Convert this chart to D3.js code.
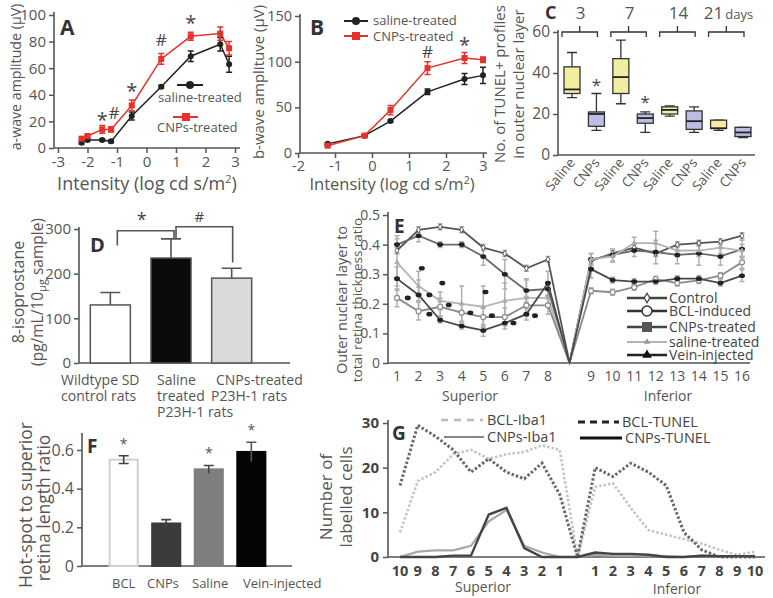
<!DOCTYPE html>
<html><head><meta charset="utf-8">
<script src="https://cdn.jsdelivr.net/npm/d3@7"></script>
<style>body{margin:0;background:#fff;}</style></head>
<body><svg id="fig" width="773" height="598"></svg>
<script>
// ===== DATA =====
// Panel A
const aIntensity = [-2.2,-2,-1.5,-1.2,-0.5,0.5,1.5,2.5,2.8];
const aSaline    = [4,6,6,5,24,46,69,78,63];
const aSalineErr = [1,1,1,1,3,1,4,5,6];
const aCNPs      = [7,9,14,14,32,67,84,86,75];
const aCNPsErr   = [1,1,3,2,4,4,3,5,5];
const aSig = [{x:-1.5,v:23,s:"*"},{x:-1.1,v:26,s:"#"},{x:-0.5,v:45,s:"*"},{x:0.5,v:81,s:"#"},{x:1.5,v:96,s:"*"}];
const aTicksX = [-3,-2,-1,0,1,2,3], aTicksY = [0,20,40,60,80,100];
// Panel B
const bIntensity = [-1.2,-0.2,0.5,1.5,2.5,3.0];
const bSaline    = [10,19,35,67,81,85];
const bSalineErr = [1,1,1,3,6,9];
const bCNPs      = [8,19,47,93,104,102];
const bCNPsErr   = [1,1,5,7,6,3];
const bSig = [{x:1.5,v:111,s:"#"},{x:2.5,v:122,s:"*"}];
const bTicksX = [-2,-1,0,1,2,3], bTicksY = [0,50,100,150];
// Panel C
const cLabels = ["Saline","CNPs","Saline","CNPs","Saline","CNPs","Saline","CNPs"];
const cDays = ["3","7","14","21"];
const cMin = [28,12,25,11,19,11,12,8.5];
const cQ1  = [30,14,30,15.5,20,12.5,13,9];
const cMed = [32,20,38,18,22,16.5,13,11];
const cQ3  = [43,21,47,20,23.5,21.5,17,13.5];
const cMax = [50,30,56,21,24,23.5,17,13.5];
const cStars = [{i:1,v:35},{i:3,v:27}];
const cTicksY = [0,20,40,60];
// Panel D
const dGroups = ["Wildtype SD control rats","Saline treated P23H-1 rats","CNPs-treated P23H-1 rats"];
const dValues = [130,235,190];
const dErr    = [28,43,22];
const dTicksY = [0,100,200,300];
// Panel E (index 8 is the optic-nerve gap)
const eTickLabels = ["1","2","3","4","5","6","7","8","","9","10","11","12","13","14","15","16"];
const eControl = [0.38,0.45,0.46,0.45,0.39,0.37,0.32,0.35,0,0.345,0.37,0.39,0.37,0.40,0.405,0.41,0.43];
const eBCL     = [0.22,0.175,0.19,0.17,0.155,0.155,0.195,0.195,0,0.244,0.239,0.256,0.283,0.27,0.279,0.295,0.34];
const eCNPs    = [0.40,0.43,0.40,0.40,0.36,0.30,0.245,0.25,0,0.35,0.365,0.38,0.375,0.365,0.37,0.36,0.385];
const eSaline  = [0.34,0.26,0.21,0.20,0.19,0.21,0.22,0.22,0,0.35,0.36,0.405,0.405,0.38,0.38,0.39,0.38];
const eVein    = [0.285,0.23,0.145,0.125,0.11,0.135,0.165,0.27,0,0.317,0.28,0.275,0.275,0.285,0.285,0.27,0.295];
const eErrControl = [0.01,0.01,0.01,0.01,0.01,0.01,0.01,0.01,0,0.01,0.01,0.01,0.01,0.01,0.01,0.01,0.01];
const eErrCNPs    = [0.03,0.02,0.01,0.01,0.03,0.05,0.04,0.02,0,0.02,0.02,0.02,0.04,0.03,0.04,0.03,0.03];
const eErrSaline  = [0.08,0.05,0.03,0.06,0.07,0.06,0.06,0.03,0,0.02,0.02,0.02,0.04,0.02,0.02,0.02,0.02];
const eErrBCL     = [0.03,0.03,0.03,0.03,0.03,0.03,0.03,0.03,0,0.01,0.01,0.01,0.01,0.01,0.01,0.01,0.02];
const eErrVein    = [0.04,0.05,0.01,0.01,0.02,0.02,0.02,0.04,0,0.03,0.01,0.01,0.01,0.01,0.01,0.01,0.02];
const eExtraDots = [{i:0.5,v:0.22},{i:1.15,v:0.32},{i:1.5,v:0.23},{i:1.5,v:0.165},{i:2.1,v:0.27},{i:2.4,v:0.196},{i:3.4,v:0.17},{i:4.1,v:0.24},{i:4.4,v:0.16},{i:5.4,v:0.135},{i:6.4,v:0.16}];
const eTicksY = [0,0.1,0.2,0.3,0.4,0.5];
// Panel F
const fCats = ["BCL","CNPs","Saline","Vein-injected"];
const fValues = [0.55,0.22,0.50,0.59];
const fErr = [0.02,0.02,0.02,0.05];
const fStars = [true,false,true,true];
const fTicksY = [0,0.2,0.4,0.6];
// Panel G (index 10 is the optic-nerve gap)
const gTickLabels = ["10","9","8","7","6","5","4","3","2","1","","1","2","3","4","5","6","7","8","9","10"];
const gBCLTunel = [16,29.5,27,24,19,22,19,17.5,21,14,0,20,18,21,19,16,5.5,1.6,0,0,0];
const gBCLIba1  = [5.5,17,19,23,24,22,23,23.5,25,24,0,15.7,16.5,11,6,5,4,3,1.6,0.5,1.2];
const gCNPsIba1 = [0,1.2,1.5,1.5,2.5,8,10.5,2.5,1,0,0,0.5,0.3,0.3,0.3,0.2,0,0.3,0.2,0,0.3];
const gCNPsTunel= [0,0,0,0.3,0.3,9.5,11,2,0,0,0,1,0.7,0.7,0.5,0,0,0.3,0.2,0.2,0.2];
const gTicksY = [0,10,20,30];

// ===== DRAWING =====
const FONT = "'Open Sans', 'Noto Sans', sans-serif";
const TXT = "#555", AX = "#555", RED = "#e6322d";
const svg = d3.select("#fig").attr("font-family", FONT);

function txt(g, x, y, s, o = {}) {
  const t = g.append("text").attr("x", x).attr("y", y).text(s)
    .attr("font-size", o.fs || 15).attr("fill", o.fill || TXT)
    .attr("text-anchor", o.anchor || "start");
  if (o.bold) t.attr("font-weight", "bold");
  if (o.rot) t.attr("transform", `rotate(${o.rot},${x},${y})`);
  return t;
}
function yAxis(g, scale, x, ticks, fs, fmt, o = {}) {
  const ax = d3.axisLeft(scale).tickValues(ticks).tickSize(5).tickSizeOuter(0).tickPadding(o.pad || 3);
  if (fmt) ax.tickFormat(fmt);
  const a = g.append("g").attr("transform", `translate(${x},0)`).call(ax);
  a.attr("font-family", FONT);
  a.select(".domain").remove();
  a.selectAll(".tick line").attr("stroke", AX).attr("stroke-width", 1.5);
  a.selectAll(".tick text").attr("fill", o.fill || TXT).attr("font-size", fs).attr("font-weight", o.bold ? "bold" : null);
}
function frame(g, x0, x1, y0, yTop) {
  g.append("path").attr("d", `M${x0},${yTop}V${y0}H${x1}`).attr("fill", "none").attr("stroke", AX).attr("stroke-width", 1.6);
}
function errBars(g, xs, ys, es, yS, color, cap) {
  xs.forEach((x, i) => {
    if (!es[i]) return;
    const y1 = yS(ys[i] - es[i]), y2 = yS(ys[i] + es[i]);
    g.append("path").attr("d", `M${x},${y1}V${y2}M${x - cap},${y1}H${x + cap}M${x - cap},${y2}H${x + cap}`)
      .attr("stroke", color).attr("stroke-width", 1.5).attr("fill", "none");
  });
}
const fmt1 = d => d === 0 ? "0" : d.toFixed(1);

// ---------- Panel A ----------
(function () {
  const g = svg.append("g");
  const x = d3.scaleLinear([-3, 3], [58, 235]);
  const y = d3.scaleLinear([0, 100], [148, 15]);
  frame(g, 54, 240, 148, 12);
  yAxis(g, y, 54, aTicksY, 15);
  const ax = g.append("g").attr("transform", "translate(0,148)")
    .call(d3.axisBottom(x).tickValues(aTicksX).tickSize(5).tickSizeOuter(0).tickFormat(d => String(d)));
  ax.attr("font-family", FONT); ax.select(".domain").remove();
  ax.selectAll(".tick line").attr("stroke", AX).attr("stroke-width", 1.5);
  ax.selectAll(".tick text").attr("fill", TXT).attr("font-size", 15);
  const line = d3.line().x((d, i) => x(aIntensity[i])).y(d => y(d));
  g.append("path").datum(aSaline).attr("d", line).attr("fill", "none").attr("stroke", "#222").attr("stroke-width", 1.5);
  g.append("path").datum(aCNPs).attr("d", line).attr("fill", "none").attr("stroke", RED).attr("stroke-width", 1.5);
  errBars(g, aIntensity.map(x), aSaline, aSalineErr, y, "#222", 3);
  errBars(g, aIntensity.map(x), aCNPs, aCNPsErr, y, RED, 3);
  aSaline.forEach((v, i) => g.append("circle").attr("cx", x(aIntensity[i])).attr("cy", y(v)).attr("r", 3).attr("fill", "#222"));
  aCNPs.forEach((v, i) => g.append("rect").attr("x", x(aIntensity[i]) - 3).attr("y", y(v) - 3).attr("width", 6).attr("height", 6).attr("fill", RED));
  aSig.forEach(s => txt(g, x(s.x), y(s.v) + (s.s === "*" ? 10 : 6), s.s, { fs: s.s === "*" ? 20 : 17, anchor: "middle", fill: "#444" }));
  // legend
  g.append("line").attr("x1", 177).attr("x2", 203).attr("y1", 85).attr("y2", 85).attr("stroke", "#222").attr("stroke-width", 2);
  g.append("circle").attr("cx", 190).attr("cy", 85).attr("r", 4).attr("fill", "#222");
  txt(g, 158, 102, "saline-treated", { fs: 13 });
  g.append("line").attr("x1", 173).attr("x2", 198).attr("y1", 117).attr("y2", 117).attr("stroke", RED).attr("stroke-width", 2);
  g.append("rect").attr("x", 182).attr("y", 113).attr("width", 8).attr("height", 8).attr("fill", RED);
  txt(g, 157, 132, "CNPs-treated", { fs: 13 });
  txt(g, 60, 35, "A", { fs: 21, bold: true, fill: "#333" });
  const t = txt(g, 147, 190, "Intensity (log cd s/m", { fs: 18, anchor: "middle" });
  t.append("tspan").attr("font-size", 11).attr("dy", -7).text("2");
  t.append("tspan").attr("dy", 7).text(")");
  txt(g, 21, 77, "a-wave amplitude (µV)", { fs: 14.2, anchor: "middle", rot: -90 });
})();

// ---------- Panel B ----------
(function () {
  const g = svg.append("g");
  const x = d3.scaleLinear([-2, 3], [298, 483]);
  const y = d3.scaleLinear([0, 150], [153, 16]);
  frame(g, 300, 487, 153, 14);
  yAxis(g, y, 300, bTicksY, 14.5);
  const ax = g.append("g").attr("transform", "translate(0,153)")
    .call(d3.axisBottom(x).tickValues(bTicksX).tickSize(5).tickSizeOuter(0).tickFormat(d => String(d)));
  ax.attr("font-family", FONT); ax.select(".domain").remove();
  ax.selectAll(".tick line").attr("stroke", AX).attr("stroke-width", 1.5);
  ax.selectAll(".tick text").attr("fill", TXT).attr("font-size", 14.5);
  const line = d3.line().x((d, i) => x(bIntensity[i])).y(d => y(d));
  g.append("path").datum(bSaline).attr("d", line).attr("fill", "none").attr("stroke", "#222").attr("stroke-width", 1.5);
  g.append("path").datum(bCNPs).attr("d", line).attr("fill", "none").attr("stroke", RED).attr("stroke-width", 1.5);
  errBars(g, bIntensity.map(x), bSaline, bSalineErr, y, "#222", 3);
  errBars(g, bIntensity.map(x), bCNPs, bCNPsErr, y, RED, 3);
  bSaline.forEach((v, i) => g.append("circle").attr("cx", x(bIntensity[i])).attr("cy", y(v)).attr("r", 3).attr("fill", "#222"));
  bCNPs.forEach((v, i) => g.append("rect").attr("x", x(bIntensity[i]) - 3).attr("y", y(v) - 3).attr("width", 6).attr("height", 6).attr("fill", RED));
  bSig.forEach(s => txt(g, x(s.x), y(s.v) + (s.s === "*" ? 10 : 6), s.s, { fs: s.s === "*" ? 20 : 17, anchor: "middle", fill: "#444" }));
  g.append("line").attr("x1", 344).attr("x2", 368).attr("y1", 21).attr("y2", 21).attr("stroke", "#222").attr("stroke-width", 2);
  g.append("circle").attr("cx", 356).attr("cy", 21).attr("r", 4).attr("fill", "#222");
  txt(g, 373, 25, "saline-treated", { fs: 13 });
  g.append("line").attr("x1", 344).attr("x2", 368).attr("y1", 36).attr("y2", 36).attr("stroke", RED).attr("stroke-width", 2);
  g.append("rect").attr("x", 352).attr("y", 32).attr("width", 8).attr("height", 8).attr("fill", RED);
  txt(g, 373, 41, "CNPs-treated", { fs: 13 });
  txt(g, 310, 35, "B", { fs: 21, bold: true, fill: "#333" });
  const t = txt(g, 392, 190, "Intensity (log cd s/m", { fs: 16.5, anchor: "middle" });
  t.append("tspan").attr("font-size", 10.5).attr("dy", -6).text("2");
  t.append("tspan").attr("dy", 6).text(")");
  txt(g, 264, 82, "b-wave amplituve (µV)", { fs: 15, anchor: "middle", rot: -90 });
})();

// ---------- Panel C ----------
(function () {
  const g = svg.append("g");
  const x = d3.scalePoint(d3.range(cLabels.length), [572, 743]);
  const y = d3.scaleLinear([0, 60], [155, 32]);
  frame(g, 558, 755, 155, 30);
  yAxis(g, y, 558, cTicksY, 15.5);
  const bw = 16;
  cLabels.forEach((lab, i) => {
    const cx = x(i), fill = lab === "Saline" ? "#f3eda2" : "#bcbde4";
    g.append("path").attr("d", `M${cx},${y(cMin[i])}V${y(cQ1[i])}M${cx},${y(cQ3[i])}V${y(cMax[i])}M${cx - 5},${y(cMin[i])}H${cx + 5}M${cx - 5},${y(cMax[i])}H${cx + 5}`)
      .attr("stroke", "#333").attr("stroke-width", 1.3).attr("fill", "none");
    g.append("rect").attr("x", cx - bw / 2).attr("y", y(cQ3[i])).attr("width", bw).attr("height", y(cQ1[i]) - y(cQ3[i]))
      .attr("fill", fill).attr("stroke", "#333").attr("stroke-width", 1.3);
    g.append("line").attr("x1", cx - bw / 2).attr("x2", cx + bw / 2).attr("y1", y(cMed[i])).attr("y2", y(cMed[i])).attr("stroke", "#222").attr("stroke-width", 1.8);
    txt(g, cx + 4, 163, lab, { fs: 13.5, anchor: "end", rot: -50 });
  });
  cStars.forEach(s => txt(g, x(s.i), y(s.v) + 8, "*", { fs: 17, anchor: "middle", fill: "#444" }));
  cDays.forEach((d, k) => {
    const a = x(2 * k) - 10, b = x(2 * k + 1) + 1, m = (a + b) / 2;
    g.append("path").attr("d", `M${a},37V32H${b}V37M${m},32V26`).attr("stroke", "#333").attr("stroke-width", 1.3).attr("fill", "none");
    if (k < 3) txt(g, m + 1, 19, d, { fs: 17, anchor: "middle" });
    else { txt(g, m - 3, 19, d, { fs: 17, anchor: "end" }); txt(g, m - 1, 19, "days", { fs: 13 }); }
  });
  txt(g, 545, 19, "C", { fs: 18, bold: true, fill: "#333" });
  txt(g, 505, 84, "No. of TUNEL+ profiles", { fs: 15, anchor: "middle", rot: -90 });
  txt(g, 524, 84, "in outer nuclear layer", { fs: 15, anchor: "middle", rot: -90 });
})();

// ---------- Panel D ----------
(function () {
  const g = svg.append("g");
  const x = d3.scaleBand(d3.range(dGroups.length), [80, 262]).paddingInner(0.34).paddingOuter(0.17);
  const y = d3.scaleLinear([0, 300], [363, 229]);
  frame(g, 79, 290, 363, 227);
  yAxis(g, y, 79, dTicksY, 15);
  const fills = ["#ffffff", "#0b0b0b", "#d9d9d9"];
  dValues.forEach((v, i) => {
    const cx = x(i) + x.bandwidth() / 2;
    g.append("path").attr("d", `M${cx},${y(v)}V${y(v + dErr[i])}M${cx - 10},${y(v + dErr[i])}H${cx + 10}`).attr("stroke", "#555").attr("stroke-width", 1.6);
    g.append("rect").attr("x", x(i)).attr("y", y(v)).attr("width", x.bandwidth()).attr("height", y(0) - y(v))
      .attr("fill", fills[i]).attr("stroke", "#555").attr("stroke-width", 1.5);
  });
  const c0 = x(0) + x.bandwidth() / 2, c1 = x(1) + x.bandwidth() / 2, c2 = x(2) + x.bandwidth() / 2;
  g.append("path").attr("d", `M${c0 + 7},${y(263)}V${y(296)}H${c1 + 3}V${y(280)}`).attr("stroke", "#555").attr("stroke-width", 1.6).attr("fill", "none");
  g.append("path").attr("d", `M${c1 + 5},${y(280)}V${y(305)}H${c2 + 1}V${y(225)}`).attr("stroke", "#555").attr("stroke-width", 1.6).attr("fill", "none");
  txt(g, (c0 + c1) / 2 + 1, 226, "*", { fs: 18, anchor: "middle", fill: "#444" });
  txt(g, (c1 + c2) / 2 - 2, 222, "#", { fs: 15, anchor: "middle", fill: "#444" });
  txt(g, 61, 385, "Wildtype SD", { fs: 14 });
  txt(g, 61, 401, "control rats", { fs: 14 });
  txt(g, 157, 385, "Saline", { fs: 14 });
  txt(g, 157, 401, "treated", { fs: 14 });
  txt(g, 157, 417, "P23H-1 rats", { fs: 14 });
  txt(g, 216, 385, "CNPs-treated", { fs: 14 });
  txt(g, 211, 401, "P23H-1 rats", { fs: 14 });
  txt(g, 90, 252, "D", { fs: 20, bold: true, fill: "#333" });
  txt(g, 24, 292, "8-isoprostane", { fs: 16, anchor: "middle", rot: -90 });
  const t = txt(g, 43, 292, "(pg/mL/10", { fs: 15.5, anchor: "middle", rot: -90 });
  t.append("tspan").attr("font-size", 11).attr("dy", 3).text("µg");
  t.append("tspan").attr("dy", -3).text(" sample)");
})();

// ---------- Panel E ----------
(function () {
  const g = svg.append("g");
  const x = d3.scaleLinear([0, 16], [397, 742]);
  const y = d3.scaleLinear([0, 0.5], [363, 215]);
  frame(g, 388, 750, 363, 212);
  yAxis(g, y, 388, eTicksY, 14, fmt1);
  eTickLabels.forEach((l, i) => txt(g, x(i), 381, l, { fs: 14, anchor: "middle" }));
  const series = [
    { v: eControl, e: eErrControl, c: "#555", w: 1.8, m: "diamond" },
    { v: eCNPs, e: eErrCNPs, c: "#6a6a6a", w: 1.8, m: "dot" },
    { v: eSaline, e: eErrSaline, c: "#b5b5b5", w: 1.8, m: "tri" },
    { v: eBCL, e: eErrBCL, c: "#8a8a8a", w: 1.8, m: "circle" },
    { v: eVein, e: eErrVein, c: "#4a4a4a", w: 1.8, m: "dot" }
  ];
  series.forEach(s => errBars(g, s.v.map((d, i) => x(i)), s.v, s.e, y, "#b0b0b0", 2.5));
  const line = d3.line().x((d, i) => x(i)).y(d => y(d));
  series.forEach(s => {
    g.append("path").datum(s.v).attr("d", line).attr("fill", "none").attr("stroke", s.c).attr("stroke-width", s.w);
    s.v.forEach((v, i) => {
      if (i === 8) return;
      const cx = x(i), cy = y(v);
      if (s.m === "dot") g.append("ellipse").attr("cx", cx).attr("cy", cy).attr("rx", 3).attr("ry", 2.3).attr("fill", "#222");
      else if (s.m === "circle") g.append("circle").attr("cx", cx).attr("cy", cy).attr("r", 2.5).attr("fill", "#fff").attr("stroke", s.c).attr("stroke-width", 1.2);
      else if (s.m === "tri") g.append("path").attr("d", d3.symbol(d3.symbolTriangle, 14)()).attr("transform", `translate(${cx},${cy})`).attr("fill", "#aaa");
      else g.append("path").attr("d", d3.symbol(d3.symbolDiamond, 12)()).attr("transform", `translate(${cx},${cy})`).attr("fill", "#fff").attr("stroke", s.c);
    });
  });
  eExtraDots.forEach(d => g.append("ellipse").attr("cx", x(d.i)).attr("cy", y(d.v)).attr("rx", 3).attr("ry", 2.3).attr("fill", "#222"));
  // legend
  const leg = [
    { t: "Control", y: 298, c: "#444", w: 2.5 },
    { t: "BCL-induced", y: 311, c: "#333", w: 2.5 },
    { t: "CNPs-treated", y: 327, c: "#444", w: 2.5 },
    { t: "saline-treated", y: 342, c: "#999", w: 1.5 },
    { t: "Vein-injected", y: 355, c: "#222", w: 2.5 }
  ];
  leg.forEach((l, k) => {
    g.append("line").attr("x1", 627).attr("x2", 667).attr("y1", l.y).attr("y2", l.y).attr("stroke", l.c).attr("stroke-width", l.w);
    if (k === 0) g.append("path").attr("d", d3.symbol(d3.symbolDiamond, 26)()).attr("transform", `translate(647,${l.y})`).attr("fill", "#fff").attr("stroke", "#444").attr("stroke-width", 1.3);
    if (k === 1) g.append("circle").attr("cx", 647).attr("cy", l.y).attr("r", 5).attr("fill", "#fff").attr("stroke", "#333").attr("stroke-width", 1.5);
    if (k === 2) g.append("rect").attr("x", 642).attr("y", l.y - 5).attr("width", 10).attr("height", 10).attr("fill", "#555");
    if (k === 3) g.append("path").attr("d", d3.symbol(d3.symbolTriangle, 18)()).attr("transform", `translate(647,${l.y})`).attr("fill", "#999");
    if (k === 4) g.append("path").attr("d", d3.symbol(d3.symbolTriangle, 40)()).attr("transform", `translate(647,${l.y})`).attr("fill", "#111");
    txt(g, 669, l.y + 5, l.t, { fs: 14, fill: "#444" });
  });
  txt(g, 470, 401, "Superior", { fs: 14, anchor: "middle" });
  txt(g, 668, 401, "Inferior", { fs: 14, anchor: "middle" });
  txt(g, 394, 233, "E", { fs: 19, bold: true, fill: "#333" });
  txt(g, 347, 300, "Outer nuclear layer to", { fs: 14.5, anchor: "middle", rot: -90 });
  txt(g, 362, 300, "total retina thickness ratio", { fs: 13.5, anchor: "middle", rot: -90 });
})();

// ---------- Panel F ----------
(function () {
  const g = svg.append("g");
  const x = d3.scaleBand(fCats, [99, 276]).paddingInner(0.34).paddingOuter(0.25);
  const y = d3.scaleLinear([0, 0.6], [566, 450]);
  frame(g, 82, 292, 566, 433);
  yAxis(g, y, 82, fTicksY, 16, fmt1);
  const fills = ["#ffffff", "#3b3b3b", "#7e7e7e", "#050505"];
  const strokes = ["#d0d0d0", "#3b3b3b", "#7e7e7e", "#050505"];
  const labelX = [112, 147, 192, 243];
  fCats.forEach((c, i) => {
    const v = fValues[i], cx = x(c) + x.bandwidth() / 2;
    g.append("rect").attr("x", x(c)).attr("y", y(v)).attr("width", x.bandwidth()).attr("height", y(0) - y(v))
      .attr("fill", fills[i]).attr("stroke", strokes[i]).attr("stroke-width", 2);
    const y1 = y(v - fErr[i]), y2 = y(v + fErr[i]);
    g.append("path").attr("d", `M${cx},${y1}V${y2}M${cx - 5},${y2}H${cx + 5}` + (i === 0 ? `M${cx - 5},${y1}H${cx + 5}` : ""))
      .attr("stroke", i === 3 ? "#555" : "#444").attr("stroke-width", 1.6).attr("fill", "none");
    if (fStars[i]) txt(g, cx, y(v + fErr[i]) - 7, "*", { fs: 14, anchor: "middle", fill: "#555" });
    txt(g, labelX[i], 588, c, { fs: 13 });
  });
  txt(g, 87, 453, "F", { fs: 19, bold: true, fill: "#333" });
  txt(g, 32, 505, "Hot-spot to superior", { fs: 17.5, anchor: "middle", rot: -90 });
  txt(g, 50, 508, "retina length ratio", { fs: 17.5, anchor: "middle", rot: -90 });
})();

// ---------- Panel G ----------
(function () {
  const g = svg.append("g");
  const x = d3.scaleLinear([0, 20], [400, 755]);
  const y = d3.scaleLinear([0, 30], [557, 423]);
  frame(g, 388, 765, 557, 420);
  yAxis(g, y, 388, gTicksY, 15, null, { bold: true, fill: "#444", pad: 4 });
  gTickLabels.forEach((l, i) => txt(g, x(i), 576, l, { fs: 14.5, anchor: "middle", bold: true, fill: "#444" }));
  const line = d3.line().x((d, i) => x(i)).y(d => y(d));
  g.append("path").datum(gBCLIba1).attr("d", line).attr("fill", "none").attr("stroke", "#c4c4c4").attr("stroke-width", 2.6).attr("stroke-dasharray", "2.5,2");
  g.append("path").datum(gCNPsIba1).attr("d", line).attr("fill", "none").attr("stroke", "#a8a8a8").attr("stroke-width", 2.2);
  g.append("path").datum(gBCLTunel).attr("d", line).attr("fill", "none").attr("stroke", "#6a6a6a").attr("stroke-width", 3).attr("stroke-dasharray", "2.5,2");
  g.append("path").datum(gCNPsTunel).attr("d", line).attr("fill", "none").attr("stroke", "#444").attr("stroke-width", 2.4);
  // legend
  g.append("line").attr("x1", 441).attr("x2", 483).attr("y1", 420).attr("y2", 420).attr("stroke", "#bbb").attr("stroke-width", 2.5).attr("stroke-dasharray", "7,6");
  txt(g, 487, 425, "BCL-Iba1", { fs: 14.5, fill: "#444" });
  g.append("line").attr("x1", 444).attr("x2", 484).attr("y1", 437).attr("y2", 437).attr("stroke", "#888").attr("stroke-width", 2);
  txt(g, 487, 442, "CNPs-Iba1", { fs: 14.5, fill: "#444" });
  g.append("line").attr("x1", 578).attr("x2", 619).attr("y1", 422).attr("y2", 422).attr("stroke", "#222").attr("stroke-width", 3).attr("stroke-dasharray", "7,5");
  txt(g, 622, 427, "BCL-TUNEL", { fs: 14.5, fill: "#444" });
  g.append("line").attr("x1", 580).attr("x2", 622).attr("y1", 438).attr("y2", 438).attr("stroke", "#111").attr("stroke-width", 3);
  txt(g, 625, 443, "CNPs-TUNEL", { fs: 14.5, fill: "#444" });
  txt(g, 392, 440, "G", { fs: 19, bold: true, fill: "#333" });
  txt(g, 332, 497, "Number of", { fs: 17, anchor: "middle", rot: -90 });
  txt(g, 352, 497, "labelled cells", { fs: 17, anchor: "middle", rot: -90 });
  txt(g, 483, 592, "Superior", { fs: 14, anchor: "middle" });
  txt(g, 677, 594, "Inferior", { fs: 14, anchor: "middle" });
})();
</script></body></html>
